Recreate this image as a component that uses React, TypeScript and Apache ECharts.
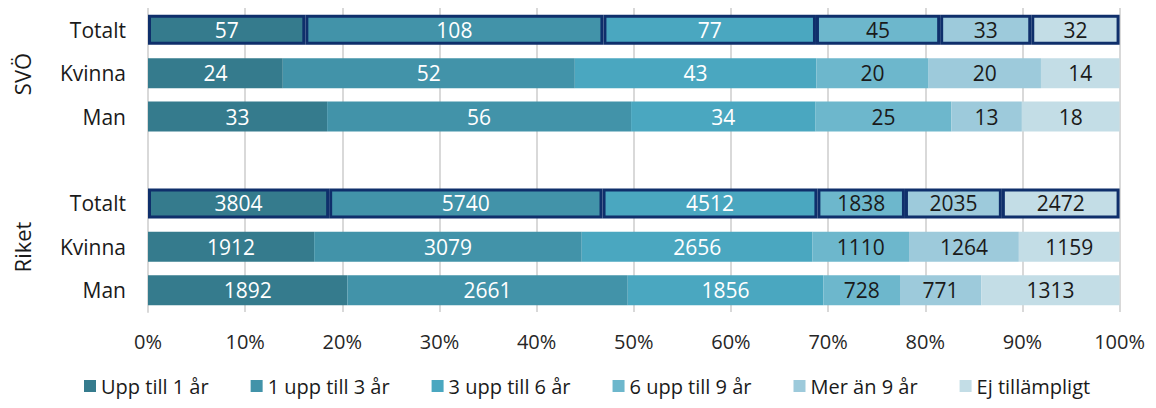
import React, { useEffect, useRef } from "react";
import * as echarts from "echarts";

const categories = ["SVÖ|Totalt", "SVÖ|Kvinna", "SVÖ|Man", "gap|", "Riket|Totalt", "Riket|Kvinna", "Riket|Man"];
const seriesNames = ["Upp till 1 år", "1 upp till 3 år", "3 upp till 6 år", "6 upp till 9 år", "Mer än 9 år", "Ej tillämpligt"];
// counts per row (null for gap row), per series
const uppTill1 = [57, 24, 33, null, 3804, 1912, 1892];
const upp1till3 = [108, 52, 56, null, 5740, 3079, 2661];
const upp3till6 = [77, 43, 34, null, 4512, 2656, 1856];
const upp6till9 = [45, 20, 25, null, 1838, 1110, 728];
const merAn9 = [33, 20, 13, null, 2035, 1264, 771];
const ejTillampligt = [32, 14, 18, null, 2472, 1159, 1313];
const groupLabels = ["SVÖ", "Riket"];
const xTicks = [0, 10, 20, 30, 40, 50, 60, 70, 80, 90, 100];

const colors = ["#357b8d", "#4293a9", "#4aa7c0", "#6db7cc", "#9dcadb", "#c3dde6"];
const labelColors = ["#ffffff", "#ffffff", "#ffffff", "#1a1a1a", "#1a1a1a", "#1a1a1a"];
const totalRows = [0, 4];

export default function App() {
  const ref = useRef<HTMLDivElement>(null);
  useEffect(() => {
    if (!ref.current) return;
    const chart = echarts.init(ref.current, null, { renderer: "svg" });
    const all = [uppTill1, upp1till3, upp3till6, upp6till9, merAn9, ejTillampligt];
    const sums = categories.map((_, i) =>
      all.reduce((s, arr) => s + (arr[i] ?? 0), 0)
    );
    const font = "'Open Sans', sans-serif";
    const series = all.map((arr, si) => ({
      name: seriesNames[si],
      type: "bar",
      stack: "total",
      barWidth: 30,
      data: arr.map((v, i) =>
        v == null
          ? null
          : {
              value: (v / sums[i]) * 100,
              count: v,
              itemStyle: totalRows.includes(i)
                ? { color: colors[si], borderColor: "#0f2f6b", borderWidth: 3 }
                : { color: colors[si] },
            }
      ),
      label: {
        show: true,
        position: "inside",
        color: labelColors[si],
        fontSize: 21,
        fontFamily: font,
        formatter: (p: any) => String(p.data.count),
      },
    }));
    const groupText = (text: string, x: number, y: number) => ({
      type: "text",
      x,
      y,
      rotation: Math.PI / 2,
      style: {
        text,
        fontSize: 22,
        fontFamily: font,
        fill: "#1a1a1a",
        align: "center",
        verticalAlign: "middle",
      },
    });
    chart.setOption({
      animation: false,
      color: colors,
      grid: { left: 140, right: 26, top: 0, bottom: 96, containLabel: false },
      xAxis: {
        type: "value",
        min: 0,
        max: 100,
        interval: 10,
        axisLabel: {
          formatter: (v: number) => (xTicks.includes(v) ? v + "%" : ""),
          fontSize: 20,
          color: "#262626",
          margin: 19,
          fontFamily: font,
        },
        splitLine: { show: true, lineStyle: { color: "#d9d9d9", width: 2 } },
        axisLine: { show: false },
        axisTick: { show: false },
      },
      yAxis: {
        type: "category",
        inverse: true,
        data: categories,
        axisLine: { show: true, lineStyle: { color: "#d9d9d9", width: 2 } },
        axisTick: { show: false },
        axisLabel: {
          formatter: (v: string) => v.split("|")[1],
          fontSize: 21,
          color: "#1a1a1a",
          margin: 22,
          fontFamily: font,
        },
      },
      legend: {
        top: 368,
        left: 76,
        padding: 0,
        itemWidth: 12,
        itemHeight: 12,
        itemGap: 42,
        icon: "rect",
        textStyle: { fontSize: 20, color: "#1a1a1a", fontFamily: font },
        data: seriesNames,
      },
      graphic: [groupText(groupLabels[0], 14, 66), groupText(groupLabels[1], 14, 239)],
      series,
    });
    return () => chart.dispose();
  }, []);
  return <div ref={ref} style={{ width: 1140, height: 400 }} />;
}
